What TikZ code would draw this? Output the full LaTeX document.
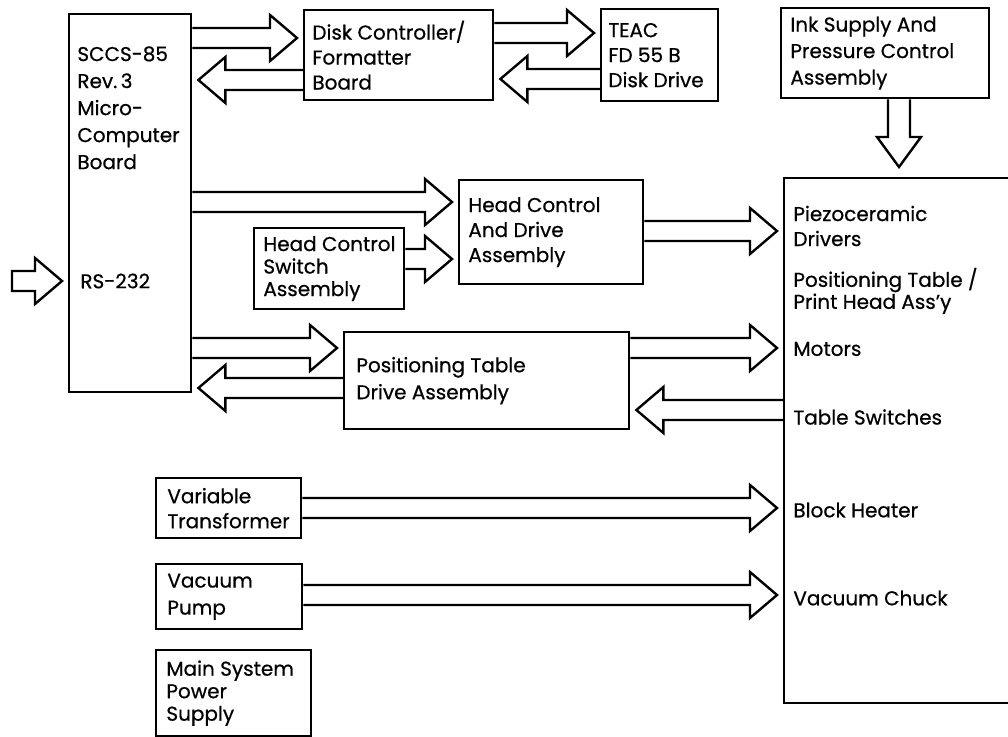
\documentclass[tikz,border=0pt]{standalone}
\usepackage{fontspec}
\setmainfont{Poppins}[FakeBold=0.6]
\usetikzlibrary{calc, positioning}
\tikzstyle{box} = [
    rectangle, draw=black, line width=1.2pt,
    anchor=north west, inner sep=0pt]
\tikzstyle{txt} = [
    align=left, inner sep=0pt,
    font=\fontsize{10}{12.5}\selectfont]
\tikzstyle{fat} = [line width=1.2pt, line join=miter]
% hollow block arrow, left or right: tail #2, tip #3
\newcommand{\harrow}[3][]{%
  \draw[fat] let \p1=(#2), \p2=(#3),
      \n1={\x2>\x1 ? \x2-16.5pt : \x2+16.5pt},
      \n2={\x2>\x1 ? \x2-3pt : \x2+3pt} in
    (\x1,\y1+5pt) -- (\n1,\y1+5pt) -- (\n1,\y1+11.5pt) -- (\n2,\y1)
    -- (\n1,\y1-11.5pt) -- (\n1,\y1-5pt) -- (\x1,\y1-5pt) #1;}
% same, up or down
\newcommand{\varrow}[2]{%
  \draw[fat] let \p1=(#1), \p2=(#2),
      \n1={\y2>\y1 ? \y2-20pt : \y2+20pt},
      \n2={\y2>\y1 ? \y2-5pt : \y2+5pt} in
    (\x1+5.5pt,\y1) -- (\x1+5.5pt,\n1) -- (\x1+11pt,\n1) -- (\x1,\n2)
    -- (\x1-11pt,\n1) -- (\x1-5.5pt,\n1) -- (\x1-5.5pt,\y1);}

\begin{document}
\begin{tikzpicture}[x=0.5pt, y=-0.5pt]
  \useasboundingbox (0,0) rectangle (1008,737);

  % boxes
  \node (micro) [box, minimum width=61pt, minimum height=189pt] at (68,13) {};
  \node (disk) [box, minimum width=94.5pt, minimum height=45pt] at (303,9) {};
  \node (teac) [box, minimum width=58.5pt, minimum height=46pt] at (600,8) {};
  \node (ink) [box, minimum width=104pt, minimum height=45pt] at (780,7) {};
  \node (hcda) [box, minimum width=92pt, minimum height=52pt] at (458,179) {};
  \node (hcsa) [box, minimum width=75pt, minimum height=40.5pt] at (253,227) {};
  \node (ptda) [box, minimum width=142.5pt, minimum height=48.5pt] at (343,331) {};
  \node (vt) [box, minimum width=72.5pt, minimum height=30pt] at (155,477) {};
  \node (vp) [box, minimum width=73pt, minimum height=32.5pt] at (155,563) {};
  \node (msps) [box, minimum width=77.5pt, minimum height=43pt] at (155,649) {};
  \node (head) [box, minimum width=120pt, minimum height=262.5pt] at (783,177) {};

  % texts
  \node (microtxt) [txt, font=\fontsize{10}{13.5}\selectfont,
      below right=16.5pt and 4.5pt of micro.north west]
      {SCCS-85\\Rev.\,3\\Micro-\\Computer\\Board};
  \node (rs) [txt, anchor=west] at (80,281) {RS-232};
  \node (disktxt) [txt, right=4.5pt of disk.west] {Disk Controller/\\Formatter\\Board};
  \node (teactxt) [txt, right=4pt of teac.west] {TEAC\\FD 55 B\\Disk Drive};
  \node (inktxt) [txt, font=\fontsize{10}{13.25}\selectfont, right=5pt of ink.west]
      {Ink Supply And\\Pressure Control\\Assembly};
  \node (hcdatxt) [txt, right=5pt of hcda.west] {Head Control\\And Drive\\Assembly};
  \node (hcsatxt) [txt, font=\fontsize{10}{11.25}\selectfont, right=5pt of hcsa.west]
      {Head Control\\Switch\\Assembly};
  \node (ptdatxt) [txt, font=\fontsize{10}{13.5}\selectfont, right=6.5pt of ptda.west]
      {Positioning Table\\Drive Assembly};
  \node (vttxt) [txt, right=6pt of vt.west] {Variable\\Transformer};
  \node (vptxt) [txt, font=\fontsize{10}{13.5}\selectfont, right=6pt of vp.west]
      {Vacuum\\Pump};
  \node (mspstxt) [txt, font=\fontsize{10}{11.25}\selectfont, right=5.5pt of msps.west]
      {Main System\\Power\\Supply};

  \node (piezo) [txt, anchor=west] at (793,226) {Piezoceramic\\Drivers};
  \node (table) [txt, font=\fontsize{10}{11}\selectfont, anchor=west] at (793,291)
      {Positioning Table /\\Print Head Ass'y};
  \node (motors) [txt, anchor=west] at (793,349) {Motors};
  \node (switches) [txt, anchor=west] at (793,417) {Table Switches};
  \node (heater) [txt, anchor=west] at (793,510) {Block Heater};
  \node (chuck) [txt, anchor=west] at (793,598) {Vacuum Chuck};

  % arrows
  \coordinate (rsin) at (12,281);
  \harrow[-- cycle]{rsin}{micro.west |- rsin}
  \harrow{micro.east |- 0,38}{disk.west |- 0,38}
  \harrow{disk.west |- 0,80}{micro.east |- 0,80}
  \harrow{disk.east |- 0,33}{teac.west |- 0,33}
  \harrow{teac.west |- 0,79}{disk.east |- 0,79}
  \varrow{ink.south -| 899,0}{head.north -| 899,0}
  \harrow{micro.east |- 0,202}{hcda.west |- 0,202}
  \harrow{hcsa.east |- 0,259}{hcda.west |- 0,259}
  \harrow{hcda.east |- 0,231}{head.west |- 0,231}
  \harrow{micro.east |- 0,348}{ptda.west |- 0,348}
  \harrow{ptda.west |- 0,388}{micro.east |- 0,388}
  \harrow{ptda.east |- 0,348}{head.west |- 0,348}
  \harrow{head.west |- 0,410}{ptda.east |- 0,410}
  \harrow{vt.east |- 0,508}{head.west |- 0,508}
  \harrow{vp.east |- 0,595}{head.west |- 0,595}

\end{tikzpicture}
\end{document}
